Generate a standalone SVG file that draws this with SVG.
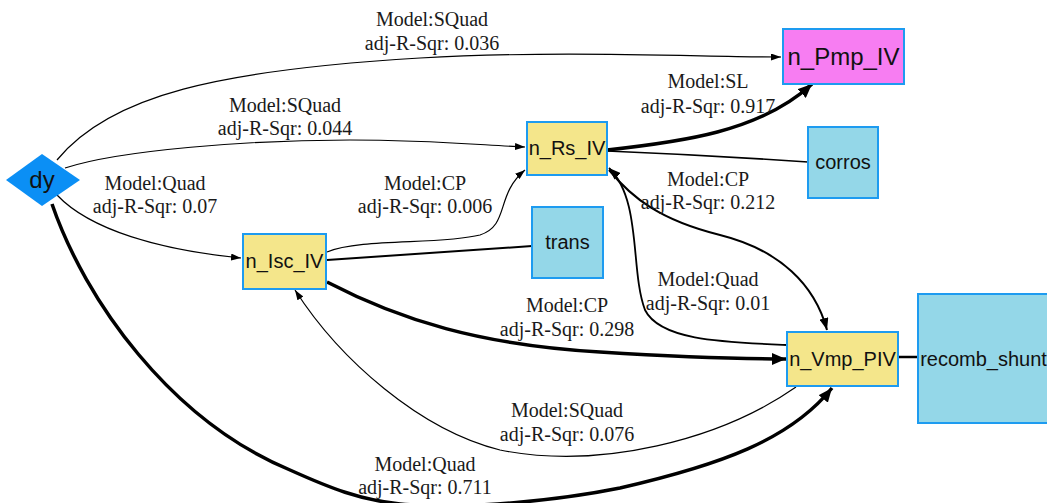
<svg xmlns="http://www.w3.org/2000/svg" width="1047" height="503" viewBox="0 0 1047 503">
<defs>
<style>
.e{fill:none;stroke:#000}
.t1{stroke-width:1.2}
.t2{stroke-width:2}
.t3{stroke-width:3.5}
.lbl{font-family:"Liberation Serif","Times New Roman",serif;font-size:20px;fill:#1a1a1a;text-anchor:middle}
.nl{font-family:"Liberation Sans",Arial,sans-serif;font-size:20px;fill:#111;text-anchor:middle}
.ny{fill:#f4e68b;stroke:#1d9bf0;stroke-width:2}
.nb{fill:#94d7e8;stroke:#1d9bf0;stroke-width:2}
</style>
<marker id="a1" viewBox="0 0 10 7" refX="10" refY="3.5" markerWidth="10" markerHeight="7" markerUnits="userSpaceOnUse" orient="auto"><path d="M0,0L10,3.5L0,7z" fill="#000"/></marker>
<marker id="a2" viewBox="0 0 12 9" refX="12" refY="4.5" markerWidth="12" markerHeight="9" markerUnits="userSpaceOnUse" orient="auto"><path d="M0,0L12,4.5L0,9z" fill="#000"/></marker>
<marker id="a3" viewBox="0 0 14 12" refX="14" refY="6" markerWidth="14" markerHeight="12" markerUnits="userSpaceOnUse" orient="auto"><path d="M0,0L14,6L0,12z" fill="#000"/></marker>
</defs>
<rect width="1047" height="503" fill="#fff"/>
<g id="edges">
<path class="e t1" d="M57,160 C110,95 220,70 420,58 C560,50 700,57 781,57" marker-end="url(#a1)"/>
<path class="e t1" d="M65,168 C120,150 250,140 350,140 C430,140 480,145 525,147" marker-end="url(#a1)"/>
<path class="e t1" d="M57,195 C90,230 160,250 241,258" marker-end="url(#a1)"/>
<path class="e t3" d="M52,204 C85,300 170,420 290,470 C330,488 360,500 400,504 C470,510 560,500 620,488 C720,465 790,440 832,388" marker-end="url(#a3)"/>
<path class="e t3" d="M607,150 C680,142 760,132 812,84" marker-end="url(#a3)"/>
<path class="e" stroke-width="1.6" d="M607,151 C680,154 750,158 808,162"/>
<path class="e t2" d="M609,170 C632,198 660,220 720,235 C780,250 815,285 827,330" marker-end="url(#a2)"/>
<path class="e" stroke-width="1.8" d="M787,345 C720,342 660,340 645,310 C630,270 642,200 609,168" marker-end="url(#a2)"/>
<path class="e t1" d="M327,252 C360,238 440,245 480,235 C510,225 495,195 525,170" marker-end="url(#a1)"/>
<path class="e t2" d="M327,260 L532,246"/>
<path class="e t3" d="M327,282 C400,320 480,345 600,352 C680,357 740,359 786,359" marker-end="url(#a3)"/>
<path class="e t1" d="M796,387 C720,440 600,470 500,450 C420,430 340,360 295,290" marker-end="url(#a1)"/>
<path class="e" stroke-width="2.5" d="M898,357 L918,357"/>
</g>
<g id="labels">
<text class="lbl" x="432" y="26">Model:SQuad</text><text class="lbl" x="432" y="50">adj-R-Sqr: 0.036</text>
<text class="lbl" x="285" y="112">Model:SQuad</text><text class="lbl" x="285" y="135">adj-R-Sqr: 0.044</text>
<text class="lbl" x="155" y="190">Model:Quad</text><text class="lbl" x="155" y="213">adj-R-Sqr: 0.07</text>
<text class="lbl" x="425" y="190">Model:CP</text><text class="lbl" x="425" y="213">adj-R-Sqr: 0.006</text>
<text class="lbl" x="708" y="88">Model:SL</text><text class="lbl" x="708" y="113">adj-R-Sqr: 0.917</text>
<text class="lbl" x="708" y="186">Model:CP</text><text class="lbl" x="708" y="209">adj-R-Sqr: 0.212</text>
<text class="lbl" x="708" y="286">Model:Quad</text><text class="lbl" x="708" y="310">adj-R-Sqr: 0.01</text>
<text class="lbl" x="567" y="312">Model:CP</text><text class="lbl" x="567" y="336">adj-R-Sqr: 0.298</text>
<text class="lbl" x="567" y="417">Model:SQuad</text><text class="lbl" x="567" y="441">adj-R-Sqr: 0.076</text>
<text class="lbl" x="425" y="471">Model:Quad</text><text class="lbl" x="425" y="494">adj-R-Sqr: 0.711</text>
</g>
<g id="dy">
<polygon points="6,180 42,154 80,180 42,206" fill="#0b8ff5"/>
<text class="nl" x="42" y="188" style="font-size:24px">dy</text>
</g>
<g id="n_Pmp_IV">
<rect x="783" y="29" width="121" height="55" fill="#f77df2" stroke="#1d9bf0" stroke-width="2"/>
<text class="nl" x="843.5" y="65" style="font-size:24px">n_Pmp_IV</text>
</g>
<g id="n_Rs_IV">
<rect class="ny" x="527" y="122" width="80" height="53"/>
<text class="nl" x="567" y="155">n_Rs_IV</text>
</g>
<g id="corros">
<rect class="nb" x="808" y="127" width="70" height="71"/>
<text class="nl" x="843" y="169">corros</text>
</g>
<g id="n_Isc_IV">
<rect class="ny" x="243" y="234" width="83" height="55"/>
<text class="nl" x="284.5" y="268">n_Isc_IV</text>
</g>
<g id="trans">
<rect class="nb" x="532" y="207" width="71" height="71"/>
<text class="nl" x="567.5" y="249">trans</text>
</g>
<g id="n_Vmp_PIV">
<rect class="ny" x="787" y="332" width="111" height="54"/>
<text class="nl" x="842.5" y="366">n_Vmp_PIV</text>
</g>
<g id="recomb_shunt">
<rect class="nb" x="918" y="294" width="140" height="129"/>
<text class="nl" x="983.5" y="366">recomb_shunt</text>
</g>
</svg>
